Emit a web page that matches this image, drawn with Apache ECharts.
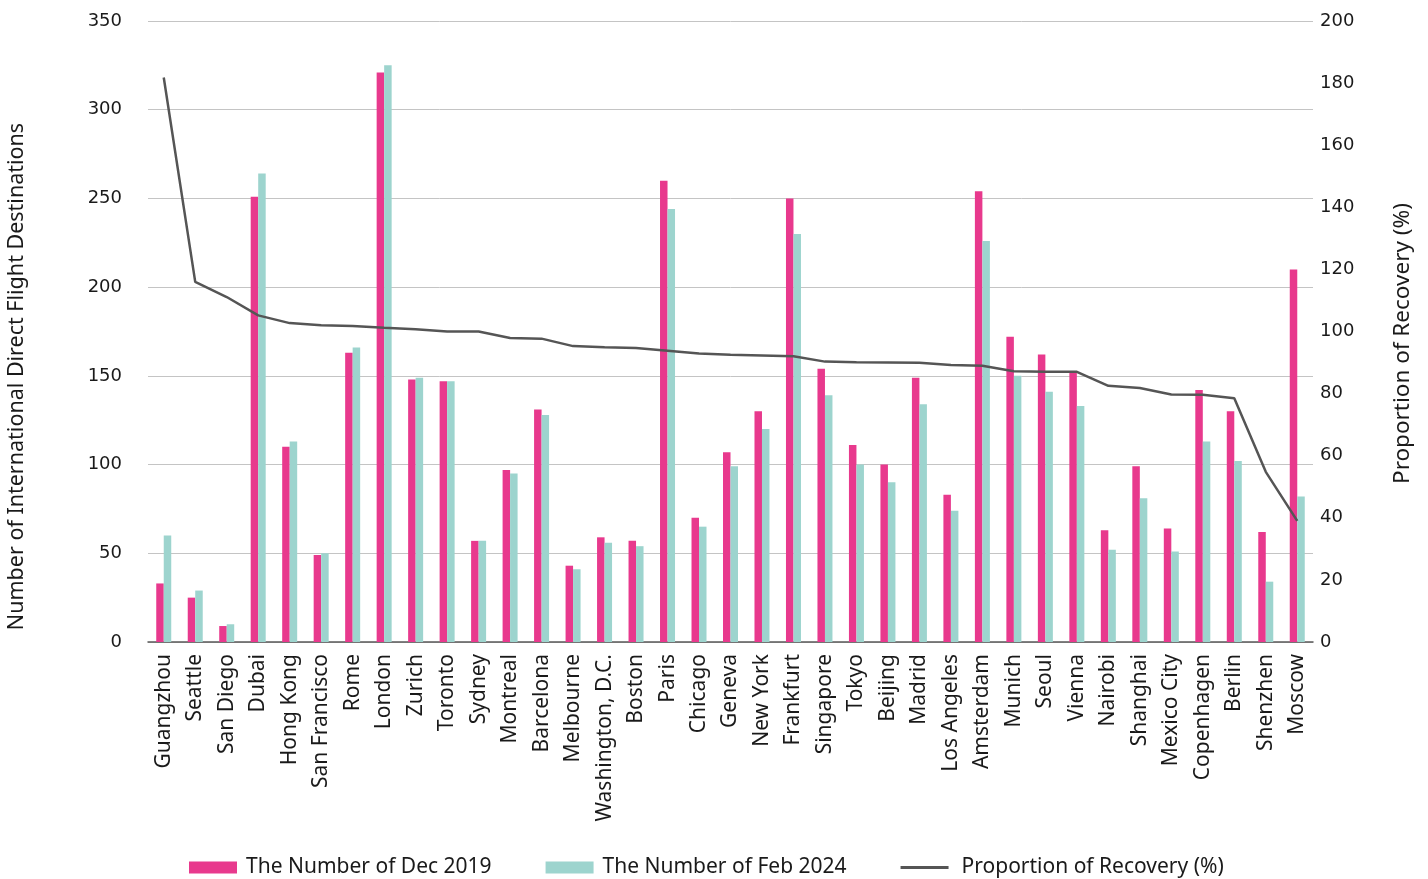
<!DOCTYPE html>
<html>
<head>
<meta charset="utf-8">
<title>International Direct Flight Destinations</title>
<script src="https://cdn.jsdelivr.net/npm/echarts@6/dist/echarts.min.js"></script>
<style>
  html, body { margin: 0; padding: 0; background: #ffffff; }
  #chart { width: 1428px; height: 879px; }
</style>
</head>
<body>
<div id="chart"></div>
<script>
// City categories, ordered by recovery proportion
const cities = ['Guangzhou', 'Seattle', 'San Diego', 'Dubai', 'Hong Kong', 'San Francisco', 'Rome', 'London',
  'Zurich', 'Toronto', 'Sydney', 'Montreal', 'Barcelona', 'Melbourne', 'Washington, D.C.', 'Boston', 'Paris',
  'Chicago', 'Geneva', 'New York', 'Frankfurt', 'Singapore', 'Tokyo', 'Beijing', 'Madrid', 'Los Angeles',
  'Amsterdam', 'Munich', 'Seoul', 'Vienna', 'Nairobi', 'Shanghai', 'Mexico City', 'Copenhagen', 'Berlin',
  'Shenzhen', 'Moscow'];

// International direct flight destinations, December 2019
const dec2019 = [33, 25, 9, 251, 110, 49, 163, 321, 148, 147, 57, 97, 131, 43, 59, 57, 260,
  70, 107, 130, 250, 154, 111, 100, 149, 83, 254, 172, 162, 152, 63, 99, 64, 142, 130, 62, 210];

// International direct flight destinations, February 2024
const feb2024 = [60, 29, 10, 264, 113, 50, 166, 325, 149, 147, 57, 95, 128, 41, 56, 54, 244,
  65, 99, 120, 230, 139, 100, 90, 134, 74, 226, 150, 141, 133, 52, 81, 51, 113, 102, 34, 82];

// Proportion of recovery (%)
const recovery = [181.8, 116.0, 111.1, 105.2, 102.7, 102.0, 101.8, 101.2, 100.7, 100.0, 100.0, 97.9, 97.7,
  95.3, 94.9, 94.7, 93.8, 92.9, 92.5, 92.3, 92.0, 90.3, 90.1, 90.0, 89.9, 89.2, 89.0, 87.2, 87.0, 87.0,
  82.5, 81.8, 79.7, 79.6, 78.5, 54.8, 39.0];

const seriesNames = ['The Number of Dec 2019', 'The Number of Feb 2024', 'Proportion of Recovery (%)'];

const PINK = '#E8398D';
const TEAL = '#9DD4CE';
const LINE = '#555555';
const TEXT = '#1a1a1a';
const labelFont = '"Noto Sans", sans-serif';
const tickFont = '"DejaVu Sans", sans-serif';

const chart = echarts.init(document.getElementById('chart'), null, { renderer: 'canvas' });

chart.setOption({
  animation: false,
  backgroundColor: '#ffffff',
  grid: { left: 148, right: 115, top: 21, bottom: 237, containLabel: false, outerBoundsMode: 'none' },
  legend: {
    left: 184,
    top: 852,
    itemWidth: 48,
    itemHeight: 12,
    itemGap: 54,
    symbolKeepAspect: true,
    textStyle: { fontFamily: labelFont, fontSize: 21, color: TEXT, padding: [0, 0, 0, 4] },
    data: [
      { name: seriesNames[0], icon: 'rect' },
      { name: seriesNames[1], icon: 'rect' },
      { name: seriesNames[2], icon: 'path://M0,0H48V3H0Z', textStyle: { padding: [0, 0, 0, 8] } }
    ]
  },
  xAxis: {
    type: 'category',
    data: cities,
    axisLine: { show: true, lineStyle: { color: '#595959', width: 1.5 } },
    axisTick: { show: false },
    axisLabel: {
      interval: 0,
      rotate: 90,
      margin: 12,
      fontFamily: labelFont,
      fontSize: 21,
      color: TEXT
    }
  },
  yAxis: [
    {
      type: 'value',
      min: 0,
      max: 350,
      interval: 50,
      name: 'Number of International Direct Flight Destinations',
      nameLocation: 'middle',
      nameRotate: 90,
      nameGap: 120,
      nameTextStyle: { fontFamily: labelFont, fontSize: 21.5, color: TEXT, padding: [0, 90, 0, 0] },
      axisLine: { show: false },
      axisTick: { show: false },
      axisLabel: { margin: 26, fontFamily: tickFont, fontSize: 18, color: TEXT },
      splitLine: { show: true, lineStyle: { color: '#c4c4c4', width: 1 } }
    },
    {
      type: 'value',
      min: 0,
      max: 200,
      interval: 20,
      name: 'Proportion of Recovery (%)',
      nameLocation: 'middle',
      nameRotate: 90,
      nameGap: 78,
      nameTextStyle: { fontFamily: labelFont, fontSize: 22.5, color: TEXT, padding: [0, 24, 0, 0] },
      axisLine: { show: false },
      axisTick: { show: false },
      axisLabel: { margin: 7, fontFamily: tickFont, fontSize: 18, color: TEXT },
      splitLine: { show: false }
    }
  ],
  series: [
    {
      name: seriesNames[0],
      type: 'bar',
      yAxisIndex: 0,
      data: dec2019,
      barWidth: 7.5,
      barGap: '0%',
      itemStyle: { color: PINK }
    },
    {
      name: seriesNames[1],
      type: 'bar',
      yAxisIndex: 0,
      data: feb2024,
      barWidth: 7.5,
      barGap: '0%',
      itemStyle: { color: TEAL }
    },
    {
      name: seriesNames[2],
      type: 'line',
      yAxisIndex: 1,
      data: recovery,
      symbol: 'none',
      lineStyle: { color: LINE, width: 2.5 },
      itemStyle: { color: LINE },
      z: 5
    }
  ]
});
</script>
</body>
</html>
